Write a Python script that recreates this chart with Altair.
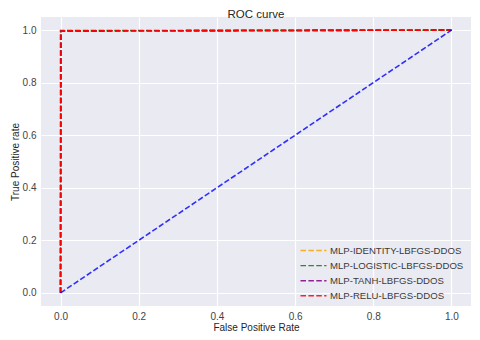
import altair as alt
import pandas as pd

models = ["MLP-IDENTITY-LBFGS-DDOS", "MLP-LOGISTIC-LBFGS-DDOS",
          "MLP-TANH-LBFGS-DDOS", "MLP-RELU-LBFGS-DDOS"]
colors = ["orange", "green", "purple", "red"]
fpr_values = [[0.0, 0.001, 1.0], [0.0, 0.0, 1.0], [0.0, 0.001, 1.0], [0.0, 0.001, 1.0]]
tpr_values = [[0.0, 0.997, 1.0], [0.0, 0.998, 1.0], [0.0, 0.997, 1.0], [0.0, 0.997, 1.0]]
diag_x = [0.0, 1.0]
diag_y = [0.0, 1.0]
ticks = [0.0, 0.2, 0.4, 0.6, 0.8, 1.0]

rows = []
for m, fx, ty in zip(models, fpr_values, tpr_values):
    for i, (a, b) in enumerate(zip(fx, ty)):
        rows.append({"model": m, "step": i, "fpr": a, "tpr": b})
df = pd.DataFrame(rows)
diag = pd.DataFrame({"fpr": diag_x, "tpr": diag_y, "step": [0, 1]})

dash = [5.5, 2.4]
xs = alt.Scale(domain=[-0.05, 1.05], nice=False, zero=False)
ys = alt.Scale(domain=[-0.05, 1.05], nice=False, zero=False)
xax = alt.Axis(values=ticks, format=".1f", title="False Positive Rate",
               titlePadding=1, labelPadding=5)
yax = alt.Axis(values=ticks, format=".1f", title="True Positive rate",
               titlePadding=2, labelPadding=5)

curves = alt.Chart(df).mark_line(strokeDash=dash, strokeWidth=1.6).encode(
    x=alt.X("fpr:Q", scale=xs, axis=xax),
    y=alt.Y("tpr:Q", scale=ys, axis=yax),
    order="step:O",
    color=alt.Color(
        "model:N",
        sort=models,
        scale=alt.Scale(domain=models, range=colors),
        legend=alt.Legend(
            title=None, orient="none", legendX=265, legendY=226,
            symbolType="M-2,0H2", symbolSize=169, symbolDash=dash,
            symbolStrokeWidth=1.4, symbolOpacity=0.85, labelFontSize=9.6,
            labelColor="#3a3a3a", labelOffset=9, rowPadding=2.1,
            labelFont="Liberation Sans",
        ),
    ),
)

diagonal = alt.Chart(diag).mark_line(
    strokeDash=dash, strokeWidth=1.6, color="blue", opacity=0.8
).encode(x=alt.X("fpr:Q", scale=xs), y=alt.Y("tpr:Q", scale=ys), order="step:O")

chart = alt.layer(curves, diagonal).properties(
    width=430, height=289,
    title=alt.TitleParams("ROC curve", fontSize=11.5, fontWeight="normal",
                          color="#262626", font="Liberation Sans", offset=-3.5),
    autosize=alt.AutoSizeParams(type="none"),
    padding={"left": 33, "top": 9, "right": 0, "bottom": 26},
).configure_view(
    fill="#EAEAF2", stroke=None
).configure_axis(
    grid=True, gridColor="white", gridWidth=1.2, domain=False, ticks=False,
    labelFont="Liberation Sans", titleFont="Liberation Sans",
    labelFontSize=10, titleFontSize=10, labelColor="#444444",
    titleColor="#262626", titleFontWeight="normal",
)

chart.save("out.html", embed_options={"renderer": "svg", "actions": False})
